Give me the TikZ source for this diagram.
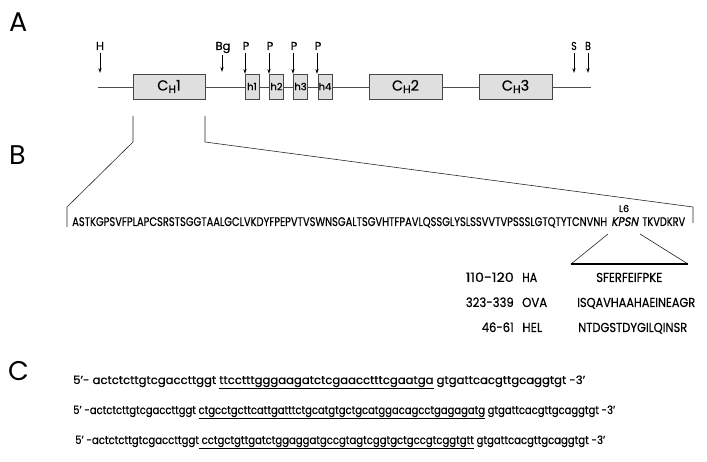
\documentclass[tikz,border=0pt]{standalone}
\usepackage{fontspec}
\setmainfont{Poppins}[FakeBold=0.5]
\newfontfamily\thinfont{Poppins}
\newfontfamily\slantfont{Poppins}[FakeSlant=0.2,FakeBold=0.5]
\usepackage{graphicx}
\usetikzlibrary{arrows.meta}
\newcommand\fitw[2]{\resizebox{#1}{\height}{#2}}
\begin{document}
\begin{tikzpicture}[x=1pt,y=-1pt,
  gbox/.style={draw=gray!55!black, fill=gray!25, line width=0.6pt, inner sep=0pt, minimum height=25pt},
  site/.style={font=\fontsize{11.5}{13}\selectfont, inner sep=0pt, anchor=base},
  cut/.style={-{Stealth[length=5pt,width=3.2pt]}, line width=0.8pt},
  thinl/.style={line width=0.6pt, draw=black!85},
  txt/.style={inner sep=0pt, anchor=base west},
  rtxt/.style={inner sep=0pt, anchor=base east},
  panel/.style={font=\thinfont\fontsize{27}{30}\selectfont, inner sep=0pt, anchor=base west},
  seqf/.style={font=\fontsize{12.5}{14}\selectfont},
  tabf/.style={font=\fontsize{13}{15}\selectfont},
  dnaf/.style={font=\fontsize{11.5}{13}\selectfont}]
\useasboundingbox (0,0) rectangle (707,462);

% panel labels
\node[panel] (pa) at (9,32) {A};
\node[panel] (pb) at (9,165) {B};
\node[panel] (pc) at (8,381) {C};

% gene map
\coordinate (g0) at (98,87);
\coordinate (g1) at (591,87);
\draw[thinl, draw=gray!60!black] (g0) -- (g1);
\node[gbox, minimum width=72pt] (ch1) at (169,86.5) {\fontsize{14.5}{15}\selectfont C\raisebox{-2.5pt}{\fontsize{11}{11}\selectfont H}1};
\node[gbox, minimum width=14pt] (h1) at (252,86.5) {\fontsize{10}{11}\selectfont h1};
\node[gbox, minimum width=14pt] (h2) at (276.5,86.5) {\fontsize{10}{11}\selectfont h2};
\node[gbox, minimum width=14pt] (h3) at (300.5,86.5) {\fontsize{10}{11}\selectfont h3};
\node[gbox, minimum width=14pt] (h4) at (325,86.5) {\fontsize{10}{11}\selectfont h4};
\node[gbox, minimum width=73pt] (ch2) at (405.5,86.5) {\fontsize{14.5}{15}\selectfont C\raisebox{-2.5pt}{\fontsize{11}{11}\selectfont H}2};
\node[gbox, minimum width=73pt] (ch3) at (515.5,86.5) {\fontsize{14.5}{15}\selectfont C\raisebox{-2.5pt}{\fontsize{11}{11}\selectfont H}3};

% restriction sites
\node[site] (sH) at (100,50) {H};
\node[site] (sBg) at (223,50) {Bg};
\node[site] (sP1) at (246,50) {P};
\node[site] (sP2) at (270,50) {P};
\node[site] (sP3) at (294,50) {P};
\node[site] (sP4) at (318,50) {P};
\node[site] (sS) at (574,50) {\scalebox{0.8}[1]{S}};
\node[site] (sB) at (588,50) {\scalebox{0.8}[1]{B}};
\coordinate (aH) at (100,73);
\coordinate (aBg) at (222,72);
\coordinate (aP1) at (245,74);
\coordinate (aP2) at (269,74);
\coordinate (aP3) at (293,74);
\coordinate (aP4) at (317,74);
\coordinate (aS) at (574,73);
\coordinate (aB) at (588,73);
\draw[cut] (100,53) -- (aH);
\draw[cut] (222,55) -- (aBg);
\draw[cut] (245,53) -- (aP1);
\draw[cut] (269,53) -- (aP2);
\draw[cut] (293,53) -- (aP3);
\draw[cut] (317,53) -- (aP4);
\draw[cut] (574,53) -- (aS);
\draw[cut] (588,53) -- (aB);

% expansion lines
\coordinate (l1) at (133,116);
\coordinate (l2) at (133,142);
\coordinate (l3) at (67,207);
\coordinate (l4) at (67,227);
\coordinate (r1) at (205,116);
\coordinate (r2) at (205,142);
\coordinate (r3) at (693,207);
\coordinate (r4) at (693,223);
\draw[thinl] (l1) -- (l2) -- (l3) -- (l4);
\draw[thinl] (r1) -- (r2) -- (r3) -- (r4);

% sequence
\node[txt, seqf] (seq1) at (72,226) {\fitw{535pt}{ASTKGPSVFPLAPCSRSTSGGTAALGCLVKDYFPEPVTVSWNSGALTSGVHTFPAVLQSSGLYSLSSVVTVPSSSLGTQTYTCNVNH}};
\node[txt, seqf] (kpsn) at (611,226) {\fitw{27pt}{\slantfont KPSN}};
\node[txt, seqf] (seq2) at (642,226) {\fitw{43pt}{TKVDKRV}};
\node[site, font=\fontsize{9.5}{10}\selectfont] (l6) at (624,212) {L6};

% insertion triangle
\coordinate (t1) at (608,234);
\coordinate (t2) at (640,234);
\coordinate (t3) at (571,264);
\coordinate (t4) at (688,264);
\draw[thinl] (t1) -- (t3);
\draw[thinl] (t2) -- (t4);
\draw[line width=2.8pt] (t3) -- (t4);

% epitope table
\node[rtxt, tabf] (n1) at (514,282) {\fitw{48pt}{110-120}};
\node[txt, tabf] (e1) at (522,282) {\fitw{15pt}{HA}};
\node[txt, tabf] (p1) at (596,282) {\fitw{66pt}{SFERFEIFPKE}};
\node[rtxt, tabf] (n2) at (514,307) {\fitw{48pt}{323-339}};
\node[txt, tabf] (e2) at (522,307) {\fitw{25pt}{OVA}};
\node[txt, tabf] (p2) at (577,307) {\fitw{118pt}{ISQAVHAAHAEINEAGR}};
\node[rtxt, tabf] (n3) at (514,332) {\fitw{32pt}{46-61}};
\node[txt, tabf] (e3) at (522,332) {\fitw{20pt}{HEL}};
\node[txt, tabf] (p3) at (578,332) {\fitw{109pt}{NTDGSTDYGILQINSR}};

% primers
\node[txt, dnaf] (c1) at (73,384) {\fitw{512pt}{5’- actctcttgtcgaccttggt \underline{ttcctttgggaagatctcgaacctttcgaatga} gtgattcacgttgcaggtgt -3’}};
\node[txt, dnaf] (c2) at (73,414) {\fitw{542pt}{5’ -actctcttgtcgaccttggt \underline{ctgcctgcttcattgatttctgcatgtgctgcatggacagcctgagagatg} gtgattcacgttgcaggtgt -3’}};
\node[txt, dnaf] (c3) at (75,444) {\fitw{530pt}{5’ -actctcttgtcgaccttggt\underline{\ cctgctgttgatctggaggatgccgtagtcggtgctgccgtcggtgtt} gtgattcacgttgcaggtgt -3’}};
\end{tikzpicture}
\end{document}
